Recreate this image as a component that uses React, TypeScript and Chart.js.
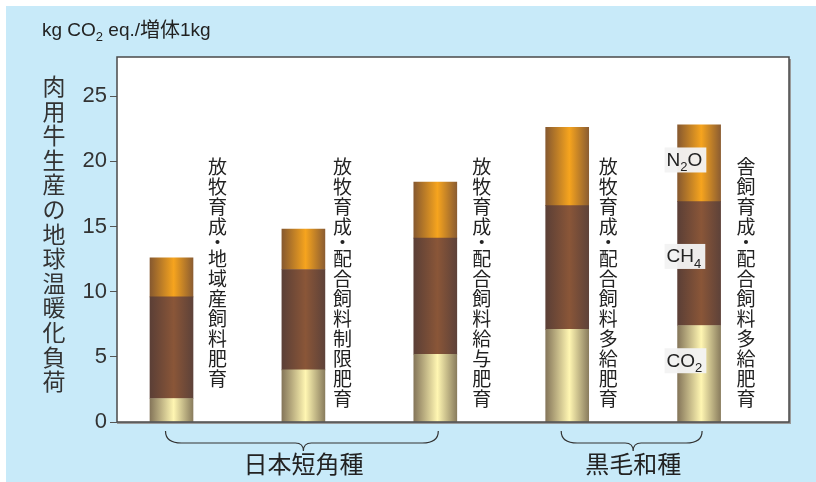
import React, { useEffect, useRef } from "react";
import { Chart, registerables } from "chart.js";

Chart.register(...registerables);

// ---- data ----
const categories = [
  "放牧育成・地域産飼料肥育",
  "放牧育成・配合飼料制限肥育",
  "放牧育成・配合飼料給与肥育",
  "放牧育成・配合飼料多給肥育",
  "舎飼育成・配合飼料多給肥育",
];
const co2Values = [1.8, 4.0, 5.2, 7.1, 7.4];
const ch4Values = [7.8, 7.7, 8.9, 9.5, 9.5];
const n2oValues = [3.0, 3.1, 4.3, 6.0, 5.9];
const breedNames = ["日本短角種", "黒毛和種"];
const breedFirst = [1, 4];
const breedLast = [3, 5];
const yMax = 28;
const yStep = 5;
const yTitle = "肉用牛生産の地球温暖化負荷";
const seriesLabelY = [4.7, 12.7, 20.1]; // CO2, CH4, N2O label anchors (value units)

// ---- styles ----
const BLUE = "#c8eaf9";
const LATIN = "'Liberation Sans Narrow', 'Liberation Sans', Arial, sans-serif";
const LATIN_W = "'Liberation Sans', Arial, sans-serif";
const CJK = "'Noto Sans CJK JP', 'Noto Sans', sans-serif";
const labelOffsets = [46, 39, 46.5, 41, 47];
const BAR_W = 43;

const grads: Record<string, [string, string, string]> = {
  co2: ["#85765a", "#fff6b2", "#8a7d5e"],
  ch4: ["#5b3f36", "#8a5638", "#5e4239"],
  n2o: ["#87592f", "#f6a41e", "#8c5d31"],
};

function gradFor(key: string) {
  return (c: any) => {
    const chart = c.chart;
    const xs = chart.scales && chart.scales.x;
    const g3 = grads[key];
    if (!xs || !c.raw) return g3[1];
    const cx = xs.getPixelForValue(c.raw.x);
    if (!Number.isFinite(cx)) return g3[1];
    const g = chart.ctx.createLinearGradient(cx - BAR_W / 2, 0, cx + BAR_W / 2, 0);
    g.addColorStop(0, g3[0]);
    g.addColorStop(0.55, g3[1]);
    g.addColorStop(1, g3[2]);
    return g;
  };
}

function drawSubText(ctx: CanvasRenderingContext2D, parts: [string, boolean][], x: number, y: number, size: number) {
  let cx = x;
  for (const [t, sub] of parts) {
    ctx.font = `${sub ? Math.round(size * 0.68) : size}px ${LATIN_W}`;
    ctx.fillText(t, cx, sub ? y + size * 0.28 : y);
    cx += ctx.measureText(t).width;
  }
  return cx - x;
}

function measureSub(ctx: CanvasRenderingContext2D, parts: [string, boolean][], size: number) {
  let w = 0;
  for (const [t, sub] of parts) {
    ctx.font = `${sub ? Math.round(size * 0.68) : size}px ${LATIN_W}`;
    w += ctx.measureText(t).width;
  }
  return w;
}

function drawVertical(ctx: CanvasRenderingContext2D, text: string, cx: number, top: number, pitch: number, dotPitch: number, font: string) {
  ctx.font = font;
  ctx.textAlign = "center";
  ctx.textBaseline = "middle";
  let y = top;
  for (const ch of Array.from(text)) {
    const p = ch === "・" ? dotPitch : pitch;
    ctx.fillText(ch, cx, y + p / 2);
    y += p;
  }
}

function drawBrace(ctx: CanvasRenderingContext2D, x1: number, x2: number, tip: number, yTop: number, yMid: number, yBot: number) {
  const r = 8;
  ctx.beginPath();
  ctx.moveTo(x1, yTop);
  ctx.quadraticCurveTo(x1, yMid, x1 + r * 2, yMid);
  ctx.lineTo(tip - r, yMid);
  ctx.quadraticCurveTo(tip, yMid, tip, yBot);
  ctx.quadraticCurveTo(tip, yMid, tip + r, yMid);
  ctx.lineTo(x2 - r * 2, yMid);
  ctx.quadraticCurveTo(x2, yMid, x2, yTop);
  ctx.stroke();
}

const decor = {
  id: "decor",
  beforeDraw(chart: any) {
    const { ctx, chartArea: a, width, height } = chart;
    ctx.save();
    ctx.fillStyle = "#ffffff";
    ctx.fillRect(0, 0, width, height);
    ctx.fillStyle = BLUE;
    ctx.fillRect(6, 6, width - 6, height - 6);
    ctx.fillStyle = "#ffffff";
    ctx.fillRect(a.left, a.top, a.right - a.left, a.bottom - a.top);
    ctx.restore();
  },
  afterDraw(chart: any) {
    const { ctx, chartArea: a, scales } = chart;
    const xs = scales.x;
    const ys = scales.y;
    ctx.save();
    // frame
    ctx.strokeStyle = "#9a9a9a";
    ctx.lineWidth = 2;
    ctx.beginPath();
    ctx.moveTo(a.right + 1, a.top + 2);
    ctx.lineTo(a.right + 1, a.bottom + 1);
    ctx.lineTo(a.left, a.bottom + 1);
    ctx.stroke();
    ctx.strokeStyle = "#4a4a4a";
    ctx.lineWidth = 1.5;
    ctx.beginPath();
    ctx.moveTo(a.left, a.bottom);
    ctx.lineTo(a.left, a.top);
    ctx.lineTo(a.right, a.top);
    ctx.lineTo(a.right, a.bottom);
    ctx.lineTo(a.left, a.bottom);
    ctx.stroke();

    // category labels (vertical)
    ctx.fillStyle = "#222";
    categories.forEach((c, i) => {
      const cx = xs.getPixelForValue(i + 1) + labelOffsets[i];
      drawVertical(ctx, c, cx, 157, 20, 12, `19px ${CJK}`);
    });

    // y title
    ctx.fillStyle = "#333";
    drawVertical(ctx, yTitle, 54, 74, 24.6, 24.6, `23px ${CJK}`);

    // unit label
    ctx.fillStyle = "#222";
    ctx.textAlign = "left";
    ctx.textBaseline = "alphabetic";
    let ux = 42;
    const uy = 36;
    ux += drawSubText(ctx, [["kg CO", false], ["2", true], [" eq./", false]], ux, uy, 19);
    ctx.font = `20px ${CJK}`;
    ctx.fillText("増体", ux, uy + 1);
    ux += ctx.measureText("増体").width;
    ctx.font = `19px ${LATIN_W}`;
    ctx.fillText("1kg", ux, uy);

    // series labels on last bar
    const lx = xs.getPixelForValue(categories.length) - BAR_W / 2 - 13;
    const sLabels: [string, boolean][][] = [
      [["CO", false], ["2", true]],
      [["CH", false], ["4", true]],
      [["N", false], ["2", true], ["O", false]],
    ];
    sLabels.forEach((parts, k) => {
      const cy = ys.getPixelForValue(seriesLabelY[k]);
      const w = measureSub(ctx, parts, 19) + 6;
      ctx.fillStyle = "rgba(243,243,243,0.96)";
      ctx.fillRect(lx, cy - 12.5, w, 25);
      ctx.fillStyle = "#222";
      ctx.textAlign = "left";
      ctx.textBaseline = "alphabetic";
      drawSubText(ctx, parts, lx + 2, cy + 6, 19);
    });

    // braces and breed labels
    ctx.strokeStyle = "#333";
    ctx.lineWidth = 1.2;
    breedNames.forEach((name, k) => {
      const x1 = xs.getPixelForValue(breedFirst[k]) - 6;
      const x2 = xs.getPixelForValue(breedLast[k]) + 3;
      const tip = (xs.getPixelForValue(breedFirst[k]) + xs.getPixelForValue(breedLast[k])) / 2;
      drawBrace(ctx, x1, x2, tip, 431, 443, 451);
      ctx.fillStyle = "#222";
      ctx.font = `24px ${CJK}`;
      ctx.textAlign = "center";
      ctx.textBaseline = "middle";
      ctx.fillText(name, tip, 464);
    });
    ctx.restore();
  },
};

export default function App() {
  const ref = useRef<HTMLCanvasElement | null>(null);
  useEffect(() => {
    document.body.style.margin = "0";
    const toPts = (arr: number[]) => arr.map((v, i) => ({ x: i + 1, y: v }));
    const chart = new Chart(ref.current as HTMLCanvasElement, {
      type: "bar",
      data: {
        datasets: [
          { label: "CO2", data: toPts(co2Values) as any, backgroundColor: gradFor("co2") as any, barThickness: BAR_W, borderWidth: 0 },
          { label: "CH4", data: toPts(ch4Values) as any, backgroundColor: gradFor("ch4") as any, barThickness: BAR_W, borderWidth: 0 },
          { label: "N2O", data: toPts(n2oValues) as any, backgroundColor: gradFor("n2o") as any, barThickness: BAR_W, borderWidth: 0 },
        ],
      },
      options: {
        responsive: false,
        animation: false,
        devicePixelRatio: 1,
        layout: { padding: { left: 0, top: 57, right: 27, bottom: 60 } },
        plugins: { legend: { display: false }, tooltip: { enabled: false } },
        scales: {
          x: { type: "linear", min: 0.5868, max: 5.6816, display: false, stacked: true, offset: false },
          y: {
            stacked: true,
            min: 0,
            max: yMax,
            ticks: { stepSize: yStep, includeBounds: false, padding: 3, color: "#333", font: { family: LATIN, size: 22 } },
            grid: { drawOnChartArea: false, drawTicks: true, tickLength: 7, color: "#555", lineWidth: 1 },
            border: { display: false },
            afterFit: (s: any) => { s.width = 117; },
          },
        },
      } as any,
      plugins: [decor],
    });
    return () => chart.destroy();
  }, []);
  return <canvas ref={ref} width={816} height={482} style={{ display: "block", width: 816, height: 482 }} />;
}
